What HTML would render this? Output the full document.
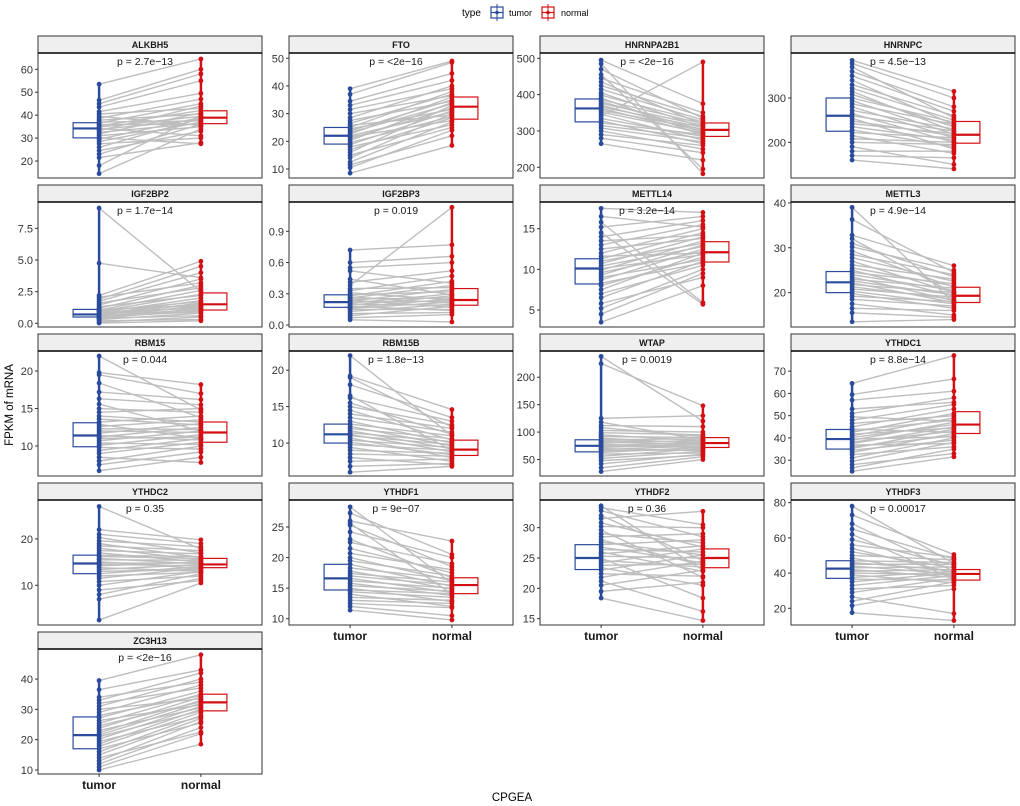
<!DOCTYPE html>
<html><head><meta charset="utf-8"><style>
html,body{margin:0;padding:0;background:#fff;}
svg{display:block;font-family:"Liberation Sans",Arial,sans-serif;}
</style></head><body>
<svg id="chart" width="1020" height="806" viewBox="0 0 1020 806" xmlns="http://www.w3.org/2000/svg">
<g>
<text x="462" y="16" font-size="10" fill="#000">type</text>
<g>
<rect x="491" y="7" width="12" height="11" fill="#fff" stroke="#2a4b9b" stroke-width="1.2"/>
<line x1="491" y1="12.5" x2="503" y2="12.5" stroke="#2a4b9b" stroke-width="1.2"/>
<line x1="497" y1="4" x2="497" y2="21" stroke="#2a4b9b" stroke-width="1"/>
<circle cx="497" cy="12.5" r="1.8" fill="#2a4b9b"/>
<text x="509" y="16" font-size="9" fill="#000">tumor</text>
</g>
<g>
<rect x="542" y="7" width="12" height="11" fill="#fff" stroke="#d40f14" stroke-width="1.2"/>
<line x1="542" y1="12.5" x2="554" y2="12.5" stroke="#d40f14" stroke-width="1.2"/>
<line x1="548" y1="4" x2="548" y2="21" stroke="#d40f14" stroke-width="1"/>
<circle cx="548" cy="12.5" r="1.8" fill="#d40f14"/>
<text x="561" y="16" font-size="9" fill="#000">normal</text>
</g>
</g>
<text transform="translate(13,405) rotate(-90)" text-anchor="middle" font-size="11.5" fill="#000">FPKM of mRNA</text>
<text x="512" y="801" text-anchor="middle" font-size="11.5" fill="#000">CPGEA</text>
<g id="panels"></g>
</svg>
<script>
const genes = ["ALKBH5","FTO","HNRNPA2B1","HNRNPC","IGF2BP2","IGF2BP3","METTL14","METTL3","RBM15","RBM15B","WTAP","YTHDC1","YTHDC2","YTHDF1","YTHDF2","YTHDF3","ZC3H13"];
const pvalues = ["p = 2.7e\u221213","p = <2e\u221216","p = <2e\u221216","p = 4.5e\u221213","p = 1.7e\u221214","p = 0.019","p = 3.2e\u221214","p = 4.9e\u221214","p = 0.044","p = 1.8e\u221213","p = 0.0019","p = 8.8e\u221214","p = 0.35","p = 9e\u221207","p = 0.36","p = 0.00017","p = <2e\u221216"];
const yDomains = [[12.6,67.1],[6.75,51.9],[170.5,514.6],[119.4,401.6],[-0.29,9.58],[-0.019,1.181],[2.91,18.28],[12.34,40.2],[6,22.67],[5.48,22.63],[20,247.8],[22.9,79.05],[1.43,28.4],[8.97,29.42],[13.96,34.56],[10.5,81.5],[8.68,49.9]];
const yTicks = [[20,30,40,50,60],[10,20,30,40,50],[200,300,400,500],[200,300],[0,2.5,5,7.5],[0,0.3,0.6,0.9],[5,10,15],[20,30,40],[10,15,20],[10,15,20],[50,100,150,200],[30,40,50,60,70],[10,20],[10,15,20,25],[15,20,25,30],[20,40,60,80],[10,20,30,40]];
const yTickLabels = [["20","30","40","50","60"],["10","20","30","40","50"],["200","300","400","500"],["200","300"],["0.0","2.5","5.0","7.5"],["0.0","0.3","0.6","0.9"],["5","10","15"],["20","30","40"],["10","15","20"],["10","15","20"],["50","100","150","200"],["30","40","50","60","70"],["10","20"],["10","15","20","25"],["15","20","25","30"],["20","40","60","80"],["10","20","30","40"]];
// box stats [q1, median, q3]
const tumorBox = [[30.1,34.2,36.7],[19,22,25],[325,362,388],[225,260,300],[0.5,0.7,1.1],[0.17,0.22,0.29],[8.2,10.1,11.3],[20,22.3,24.7],[9.9,11.4,13.1],[10,11.2,12.6],[64,75,86],[35,39.5,43.8],[12.5,14.7,16.5],[14.7,16.6,18.9],[23.1,25,27.2],[37,42.5,47],[17,21.5,27.5]];
const normalBox = [[36.3,38.9,41.9],[28,32.5,36],[285,303,322],[198,217,247],[1.05,1.5,2.4],[0.19,0.24,0.35],[10.9,12.1,13.4],[17.8,19.3,21.2],[10.5,11.8,13.2],[8.3,9.1,10.4],[72,80,90],[42,46,51.8],[13.8,14.5,15.8],[14.1,15.5,16.7],[23.4,25,26.5],[36,39.5,42],[29.5,32.3,35]];
const tumorVals = [
[14.5,18,21.5,23,24.5,26,27.5,28.5,29.5,30.2,31,31.8,32.5,33.2,33.8,34.2,34.8,35.3,35.9,36.5,37,37.8,38.6,39.5,40.5,41.5,43.5,45,46.5,53.5],
[8.5,10.5,11.5,12.5,14,15,16,17,18,18.8,19.5,20.3,21,21.6,22,22.6,23.2,23.8,24.5,25,25.8,26.5,27.5,28.5,30,31.5,33,34.5,37,39],
[265,280,290,300,308,315,322,328,334,340,346,352,357,362,366,371,376,381,386,391,398,405,415,425,435,445,455,470,485,495],
[160,170,180,190,200,208,215,222,228,235,242,248,254,260,265,272,280,287,294,300,308,315,322,330,340,350,360,370,378,385],
[0.02,0.1,0.2,0.3,0.35,0.4,0.45,0.5,0.55,0.6,0.65,0.7,0.72,0.78,0.85,0.9,0.95,1.0,1.05,1.1,1.2,1.3,1.45,1.6,1.75,1.9,2.05,2.2,4.75,9.1],
[0.05,0.07,0.09,0.11,0.13,0.15,0.16,0.17,0.18,0.19,0.2,0.21,0.22,0.23,0.24,0.25,0.26,0.27,0.28,0.29,0.31,0.33,0.35,0.38,0.41,0.44,0.52,0.55,0.6,0.72],
[3.5,4.5,5.2,5.8,6.5,7,7.5,8,8.3,8.7,9,9.3,9.6,9.9,10.1,10.4,10.7,11,11.3,11.6,12,12.5,13,13.5,14,14.5,15.2,15.8,16.5,17.5],
[13.5,15.5,16.5,17.5,18.5,19.2,19.8,20.3,20.8,21.3,21.8,22.2,22.6,23,23.5,24,24.5,25,25.5,26.2,27,27.8,28.5,29.3,30.2,31,32,32.8,36.3,39],
[6.7,7.5,8,8.5,9,9.4,9.8,10.1,10.4,10.7,11,11.2,11.4,11.7,12,12.3,12.6,12.9,13.2,13.6,14,14.5,15,15.6,16.3,17.2,18.4,19.5,19.8,22],
[6,6.8,7.5,8,8.5,9,9.4,9.8,10.1,10.4,10.7,11,11.2,11.4,11.7,12,12.3,12.6,13,13.5,14,14.5,15,15.5,16.2,16.5,18,19,19.2,22],
[28,35,42,48,52,56,60,63,66,68,70,72,74,76,78,80,82,84,86,89,92,95,99,103,108,112,118,125,225,238],
[25,26.5,28,29.5,31,32.5,33.5,34.5,35.3,36,36.8,37.5,38.2,39,39.5,40.2,41,41.7,42.5,43.3,44,45,46.5,48,49.5,51,53,57,59.5,64.5],
[2.5,7,8,9,10,10.8,11.5,12,12.5,13,13.4,13.8,14.2,14.5,14.8,15.1,15.5,15.8,16.2,16.5,17,17.5,18,18.5,19,19.6,20.3,21,22,27],
[11.4,12,12.5,13,13.5,14,14.4,14.7,15,15.4,15.8,16.2,16.6,17,17.4,17.8,18.3,18.9,19.5,20,20.7,21.5,22.5,23,24.2,25.3,25.6,27.3,28.3,26],
[18.4,19.5,20.5,21.2,21.8,22.4,23,23.4,23.8,24.2,24.6,25,25.3,25.7,26,26.4,26.8,27.2,27.6,28,28.5,29,29.6,30.2,30.8,31.5,32,32.8,33.3,33.6],
[17.5,21.5,24,26.5,29,31,33,35,36.5,37.5,39,40,41,42,43,44,45,46,47,48.5,50,52,54,56,59,62,65,68,73,78],
[10,11,12,13,14,15,16,17,17.8,18.6,19.4,20.2,21,21.5,22.2,23,23.8,24.6,25.4,26.3,27.2,28,29,30,31,32,33,34,36.5,39.5]
];
const normalVals = [
[34,40,28,36,33,38.5,30,37,39,27.5,35,41,36.5,44,38,31,39.5,42,36,45,37.5,40.5,47,35.5,43,49.5,55,58,60,64.5],
[18.5,24,22,27,30,25,33,28.5,26,31,29,34,32,27.5,30.5,36,33.5,35,31.5,38,29.5,37,34.5,40,36.5,39,42,44.5,48.5,49],
[220,240,260,250,270,280,290,265,285,490,275,295,305,292,310,298,315,302,320,288,325,310,330,340,318,350,195,335,182,375],
[140,165,180,150,195,200,175,210,190,205,220,215,185,225,200,230,210,240,218,245,235,225,250,260,240,270,280,255,300,315],
[0.2,0.5,0.3,0.8,1.2,0.6,1.0,1.4,0.9,1.1,1.6,1.3,1.8,1.5,2.0,1.2,2.3,1.7,2.6,1.4,3.0,2.2,3.5,2.8,4.0,4.5,3.2,4.9,3.6,2.5],
[0.03,0.1,0.18,0.12,0.2,0.15,0.22,0.25,0.14,0.28,0.19,0.3,0.23,0.34,0.17,0.26,0.38,0.21,0.42,0.32,0.24,0.47,0.36,1.13,0.52,0.29,0.4,0.6,0.66,0.77],
[8,9.5,10,9,11,10.5,12,11.5,10.8,12.5,11.2,13,12.2,13.5,11.8,12.8,14,13.2,14.5,12,15,13.8,15.5,14.2,16,5.7,16.5,5.9,15.2,17],
[14,14.5,16,15,17,18,16.5,17.5,19,18.5,20,17.8,19.5,21,18.2,20.5,22,19.2,21.5,23,20,22.5,24,21.2,25,23.5,19.8,26,24.5,17.8],
[8.5,9.2,10,7.8,10.5,11,9.6,11.5,10.2,12,11.2,12.5,10.8,13,11.8,12.2,13.5,11,14,12.8,13.2,15,14.5,12,15.5,16.2,13.8,17,18.2,14.8],
[6.8,7.2,7.8,7,8.2,8.6,7.5,9,8.4,9.4,8,9.8,8.8,10.2,9.2,10.6,9.6,11,10,11.5,12,10.4,12.5,11.2,13,9,13.5,12.2,14.6,11],
[50,55,60,58,65,70,62,72,68,75,66,78,74,80,71,85,77,82,88,79,90,84,95,100,92,110,86,130,148,120],
[31.5,35,33,38,40,36,42,39,44,41,37.5,45,43,47,40.5,46,49,44.5,51,48,42.5,53,50,55,47.5,58,56,61,66.5,77],
[10.5,11.5,12.5,11,13,12,13.8,12.8,14,13.4,14.5,13,15,14.2,14.8,13.6,15.4,14.6,15.8,16.2,15,16.8,15.5,17.5,16,18.3,17,19,19.8,17.8],
[9.8,10.5,11.8,12.5,13,12,13.5,14.1,12.8,14.5,13.8,15,14.3,15.5,16,14.8,16.5,15.3,17,16.2,18,17.5,19,16.7,20,18.5,14,20.5,15.8,22.7],
[14.7,21,23,16.2,24.5,22,25.5,20.5,24,26.5,23.5,18.4,25,27,22.8,26,24.2,28,25.5,23.8,29,27.5,21.8,30,26.8,32.7,24.6,28.5,30.5,23],
[13,31,35,17,37,33,38.5,40,36,41,34.5,39,42,37.5,43.5,39.5,45,41.5,46,38,47.5,43,40,49,44.5,36.5,48,41,50.5,45.5],
[18.5,22,24,26,22.5,27,28,25.5,29,30,27.5,31,29.5,32,33,30.5,34,32.5,35,31.5,36,34.5,38,33.5,40,37,42,39,43,48]
];
const groups = ["tumor","normal"];

const NS = "http://www.w3.org/2000/svg";
const BLUE = "#2a4b9b", RED = "#d40f14";
const root = document.getElementById("panels");
function mk(tag, attrs, parent){
  const e = document.createElementNS(NS, tag);
  for (const k in attrs) e.setAttribute(k, attrs[k]);
  parent.appendChild(e);
  return e;
}
const PW = 224, PH = 125, STRIP = 17;
genes.forEach((gene, i) => {
  const col = i % 4, row = Math.floor(i / 4);
  const left = 38 + col * 251;
  const stripTop = 36 + row * 149;
  const top = stripTop + STRIP;
  const bottom = top + PH;
  const dom = yDomains[i];
  const yS = v => bottom - (v - dom[0]) / (dom[1] - dom[0]) * PH;
  const xS = g => left + (g === 0 ? 0.6 : 1.6) / 2.2 * PW;
  const g = mk("g", {}, root);
  
  
  const st = mk("rect", {x: left, y: stripTop, width: PW, height: STRIP, fill: "#efefef", stroke: "#333", "stroke-width": 1}, g);
  
  
  const stt = mk("text", {x: left + PW / 2, y: stripTop + 12, "text-anchor": "middle", "font-size": "9", "font-weight": "bold", fill: "#1a1a1a"}, g);
  stt.textContent = gene;
  
  
  const bg = mk("rect", {x: left, y: top, width: PW, height: PH, fill: "#fff", stroke: "none"}, g);
  
  
  const tv = tumorVals[i], nv = normalVals[i];
  for (let k = 0; k < tv.length; k++) {
    const ln = mk("line", {x1: xS(0), y1: yS(tv[k]), x2: xS(1), y2: yS(nv[k]), stroke: "#bebebe", "stroke-width": 1.4}, g);
    
    
  }
  [tumorBox[i], normalBox[i]].forEach((b, gi) => {
    const c = gi === 0 ? BLUE : RED;
    const x0 = gi === 0 ? xS(0) - 26 : xS(1) + 1;
    const bx = mk("rect", {x: x0, y: yS(b[2]), width: 25, height: yS(b[0]) - yS(b[2]), fill: "#fff", stroke: c, "stroke-width": 1.2}, g);
    
    
    const md = mk("line", {x1: x0, x2: x0 + 25, y1: yS(b[1]), y2: yS(b[1]), stroke: c, "stroke-width": 2.2}, g);
    
    
  });
  [tv, nv].forEach((vals, gi) => {
    const c = gi === 0 ? BLUE : RED;
    const lo = Math.min(...vals), hi = Math.max(...vals);
    const wl = mk("line", {x1: xS(gi), x2: xS(gi), y1: yS(lo), y2: yS(hi), stroke: c, "stroke-width": 2.5}, g);
    
    
    vals.forEach(v => {
      const p = mk("circle", {cx: xS(gi), cy: yS(v), r: 2.4, fill: c}, g);
      
      
    });
  });
  const bd = mk("rect", {x: left, y: top, width: PW, height: PH, fill: "none", stroke: "#333", "stroke-width": 1}, g);
  
  
  const sl = mk("line", {x1: left, x2: left + PW, y1: top, y2: top, stroke: "#000", "stroke-width": 1.5}, g);
  
  
  const pt = mk("text", {x: left + 107, y: top + 12, "text-anchor": "middle", "font-size": "10.5", fill: "#1a1a1a"}, g);
  pt.textContent = pvalues[i];
  
  
  yTicks[i].forEach((t, ti) => {
    const y = yS(t);
    const tk = mk("line", {x1: left - 3, x2: left, y1: y, y2: y, stroke: "#333", "stroke-width": 1}, g);
    
    
    const tl = mk("text", {x: left - 5, y: y + 4, "text-anchor": "end", "font-size": "11", fill: "#333"}, g);
    tl.textContent = yTickLabels[i][ti];
    
    
  });
  const isBottom = (row === 4) || (row === 3 && col > 0);
  if (isBottom) {
    groups.forEach((gn, gi) => {
      const xt = mk("line", {x1: xS(gi), x2: xS(gi), y1: bottom, y2: bottom + 3, stroke: "#333", "stroke-width": 1}, g);
      
      
      const xl = mk("text", {x: xS(gi), y: bottom + 15, "text-anchor": "middle", "font-size": "12", "font-weight": "bold", fill: "#1a1a1a"}, g);
      xl.textContent = gn;
      
      
    });
  }
});
</script>
</body></html>
